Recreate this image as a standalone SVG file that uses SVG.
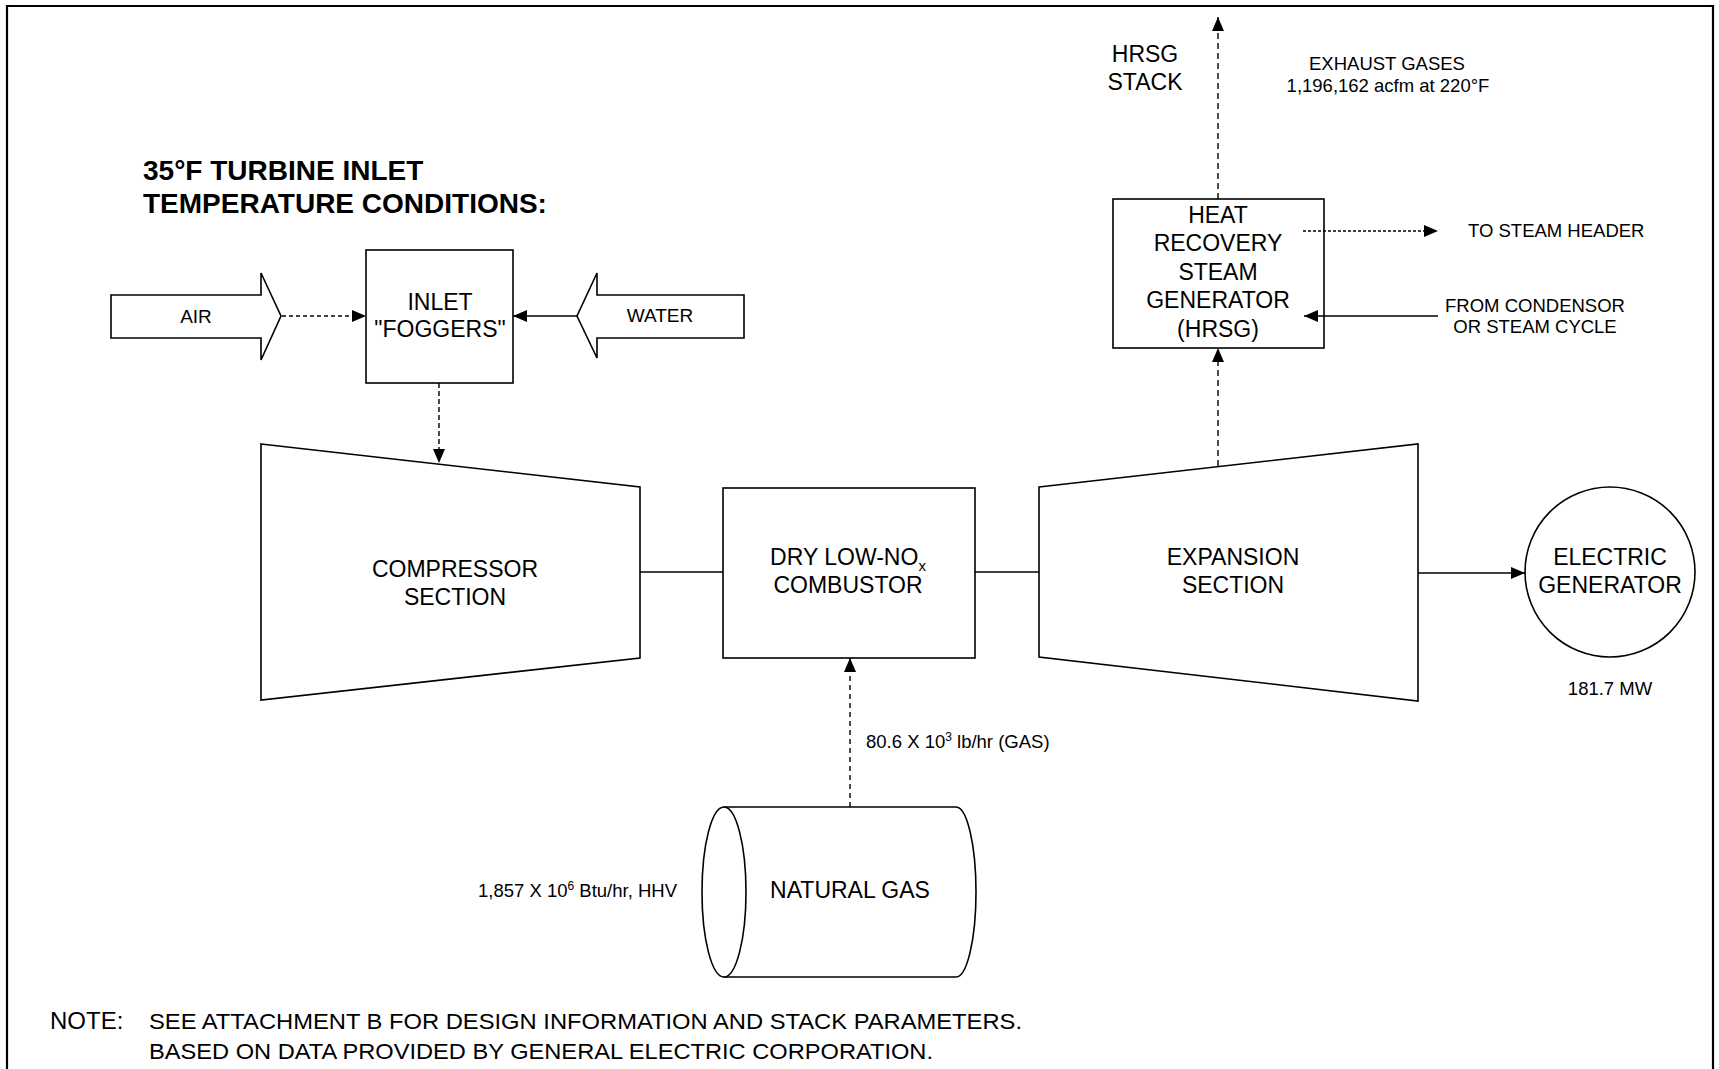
<svg xmlns="http://www.w3.org/2000/svg" width="1719" height="1069" viewBox="0 0 1719 1069">
<style>
text{font-family:"Liberation Sans",Arial,sans-serif;fill:#000}
.lbl{font-size:23px;text-anchor:middle}
.sm{font-size:18.5px}
.shape{fill:#fff;stroke:#000;stroke-width:1.6}
.ln{fill:none;stroke:#000;stroke-width:1.6}
.dash{fill:none;stroke:#000;stroke-width:1.4;stroke-dasharray:6 4}
.dot{fill:none;stroke:#000;stroke-width:1.4;stroke-dasharray:3 2}
</style>
<defs>
<marker id="ah" markerUnits="userSpaceOnUse" markerWidth="14" markerHeight="12" refX="14" refY="6" orient="auto">
<path d="M0,0 L14,6 L0,12 z" fill="#000"/>
</marker>
</defs>
<rect width="1719" height="1069" fill="#fff"/>
<path d="M7,1069 V6 H1713 V1069" fill="none" stroke="#000" stroke-width="2.2"/>

<g id="title">
<text x="143" y="180" font-size="28" font-weight="bold">35°F TURBINE INLET</text>
<text x="143" y="213" font-size="28" font-weight="bold">TEMPERATURE CONDITIONS:</text>
</g>

<g id="air">
<polygon class="shape" points="111,295 261,295 261,273 281,316 261,360 261,338 111,338"/>
<text x="196" y="323" font-size="19" text-anchor="middle">AIR</text>
</g>

<g id="water">
<polygon class="shape" points="744,295 597,295 597,273 577,316 597,358 597,338 744,338"/>
<text x="660" y="322" font-size="19" text-anchor="middle">WATER</text>
</g>

<g id="foggers">
<rect class="shape" x="366" y="250" width="147" height="133"/>
<text class="lbl" x="440" y="310">INLET</text>
<text class="lbl" x="440" y="337">"FOGGERS"</text>
</g>

<g id="compressor">
<polygon class="shape" points="261,444 640,487 640,658 261,700"/>
<text class="lbl" x="455" y="577">COMPRESSOR</text>
<text class="lbl" x="455" y="605">SECTION</text>
</g>

<g id="combustor">
<rect class="shape" x="723" y="488" width="252" height="170"/>
<text class="lbl" x="848" y="565">DRY LOW-NO<tspan font-size="15" dy="6">x</tspan></text>
<text class="lbl" x="848" y="593">COMBUSTOR</text>
</g>

<g id="expansion">
<polygon class="shape" points="1039,487 1418,444 1418,701 1039,657"/>
<text class="lbl" x="1233" y="565">EXPANSION</text>
<text class="lbl" x="1233" y="593">SECTION</text>
</g>

<g id="generator">
<circle class="shape" cx="1610" cy="572" r="85"/>
<text class="lbl" x="1610" y="565">ELECTRIC</text>
<text class="lbl" x="1610" y="593">GENERATOR</text>
<text class="sm" x="1610" y="695" text-anchor="middle">181.7 MW</text>
</g>

<g id="hrsg">
<rect class="shape" x="1113" y="199" width="211" height="149"/>
<text class="lbl" x="1218" y="223">HEAT</text>
<text class="lbl" x="1218" y="251">RECOVERY</text>
<text class="lbl" x="1218" y="280">STEAM</text>
<text class="lbl" x="1218" y="308">GENERATOR</text>
<text class="lbl" x="1218" y="337">(HRSG)</text>
</g>

<g id="stack">
<text class="lbl" x="1145" y="62">HRSG</text>
<text class="lbl" x="1145" y="90">STACK</text>
<text class="sm" x="1387" y="70" text-anchor="middle">EXHAUST GASES</text>
<text class="sm" x="1388" y="92" text-anchor="middle">1,196,162 acfm at 220°F</text>
</g>

<g id="steam-header">
<text class="sm" x="1468" y="237">TO STEAM HEADER</text>
</g>

<g id="condensor">
<text class="sm" x="1535" y="312" text-anchor="middle">FROM CONDENSOR</text>
<text class="sm" x="1535" y="333" text-anchor="middle">OR STEAM CYCLE</text>
</g>

<g id="natural-gas">
<path class="shape" d="M724,807 H956 A20,85 0 0 1 956,977 H724 Z"/>
<ellipse class="shape" cx="724" cy="892" rx="22" ry="85"/>
<text class="lbl" x="850" y="898">NATURAL GAS</text>
<text class="sm" x="478" y="897">1,857 X 10<tspan font-size="12" dy="-7">6</tspan><tspan dy="7"> Btu/hr, HHV</tspan></text>
<text class="sm" x="866" y="748">80.6 X 10<tspan font-size="12" dy="-7">3</tspan><tspan dy="7"> lb/hr (GAS)</tspan></text>
</g>

<g id="connectors">
<line class="dash" x1="282" y1="316" x2="366" y2="316" marker-end="url(#ah)" style="stroke-dasharray:4 3"/>
<line class="ln" x1="577" y1="316" x2="513" y2="316" marker-end="url(#ah)"/>
<line class="dash" x1="439" y1="383" x2="439" y2="463" marker-end="url(#ah)" style="stroke-dasharray:5 3"/>
<line class="ln" x1="640" y1="572" x2="723" y2="572"/>
<line class="ln" x1="975" y1="572" x2="1039" y2="572"/>
<line class="ln" x1="1418" y1="573" x2="1525" y2="573" marker-end="url(#ah)"/>
<line class="dash" x1="1218" y1="466" x2="1218" y2="348" marker-end="url(#ah)"/>
<line class="dash" x1="1218" y1="199" x2="1218" y2="17" marker-end="url(#ah)"/>
<line class="dot" x1="1303" y1="231" x2="1438" y2="231" marker-end="url(#ah)"/>
<line class="ln" x1="1438" y1="316" x2="1304" y2="316" marker-end="url(#ah)"/>
<line class="dash" x1="850" y1="807" x2="850" y2="658" marker-end="url(#ah)" style="stroke-dasharray:5 4"/>
</g>

<g id="note">
<text x="50" y="1029" font-size="24">NOTE:</text>
<text x="149" y="1029" font-size="22" textLength="873" lengthAdjust="spacingAndGlyphs">SEE ATTACHMENT B FOR DESIGN INFORMATION AND STACK PARAMETERS.</text>
<text x="149" y="1059" font-size="22" textLength="784" lengthAdjust="spacingAndGlyphs">BASED ON DATA PROVIDED BY GENERAL ELECTRIC CORPORATION.</text>
</g>
</svg>
